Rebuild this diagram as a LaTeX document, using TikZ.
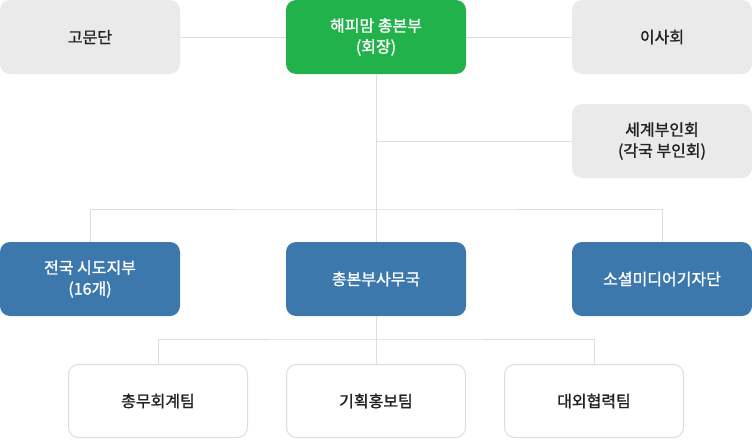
\documentclass[tikz,border=0pt]{standalone}
\usepackage{fontspec}
\setmainfont{Noto Sans CJK KR}[UprightFeatures={FakeBold=1.3}]
\definecolor{orggray}{HTML}{EAEAEA}
\definecolor{orggreen}{HTML}{22B24C}
\definecolor{orgblue}{HTML}{3D78AD}
\definecolor{orgline}{HTML}{DDDDDD}
\definecolor{orgtext}{HTML}{222222}
\tikzset{
  orgbox/.style={rounded corners=10pt, minimum width=180pt, minimum height=74pt,
    align=center, font=\fontsize{16}{21}\selectfont, inner sep=0pt},
  graybox/.style={orgbox, fill=orggray, text=orgtext},
  greenbox/.style={orgbox, fill=orggreen, text=white},
  bluebox/.style={orgbox, fill=orgblue, text=white},
  whitebox/.style={orgbox, fill=white, draw=orgline, line width=1pt, text=orgtext,
    minimum width=179pt, minimum height=73pt},
  conn/.style={draw=orgline, line width=1pt}
}

\begin{document}
\begin{tikzpicture}[x=1pt, y=-1pt]
  \useasboundingbox (0,0) rectangle (752,439);

  % Top row
  \node[graybox]  (advisors) at (90,37)  {고문단};
  \node[greenbox] (hq)       at (376,37) {해피맘 총본부\\(회장)};
  \node[graybox]  (board)    at (662,37) {이사회};
  \node[graybox]  (wives)    at (662,141) {세계부인회\\(각국 부인회)};

  % Middle row
  \node[bluebox] (region) at (90,279)  {전국 시도지부\\(16개)};
  \node[bluebox] (office) at (376,279) {총본부사무국};
  \node[bluebox] (media)  at (662,279) {소셜미디어기자단};

  % Teams
  \node[whitebox] (finance)  at (158,401) {총무회계팀};
  \node[whitebox] (planning) at (376,401) {기획홍보팀};
  \node[whitebox] (external) at (594,401) {대외협력팀};

  % Connectors
  \coordinate (bus1) at (376,209);
  \coordinate (bus2) at (376,339);
  \draw[conn] (advisors.east) -- (hq.west);
  \draw[conn] (hq.east) -- (board.west);
  \draw[conn] (hq.south) -- (office.north);
  \draw[conn] (hq.south |- wives.west) -- (wives.west);
  \draw[conn] (region.north) |- (bus1) -| (media.north);
  \draw[conn] (office.south) -- (planning.north);
  \draw[conn] (finance.north) |- (bus2) -| (external.north);
\end{tikzpicture}
\end{document}
